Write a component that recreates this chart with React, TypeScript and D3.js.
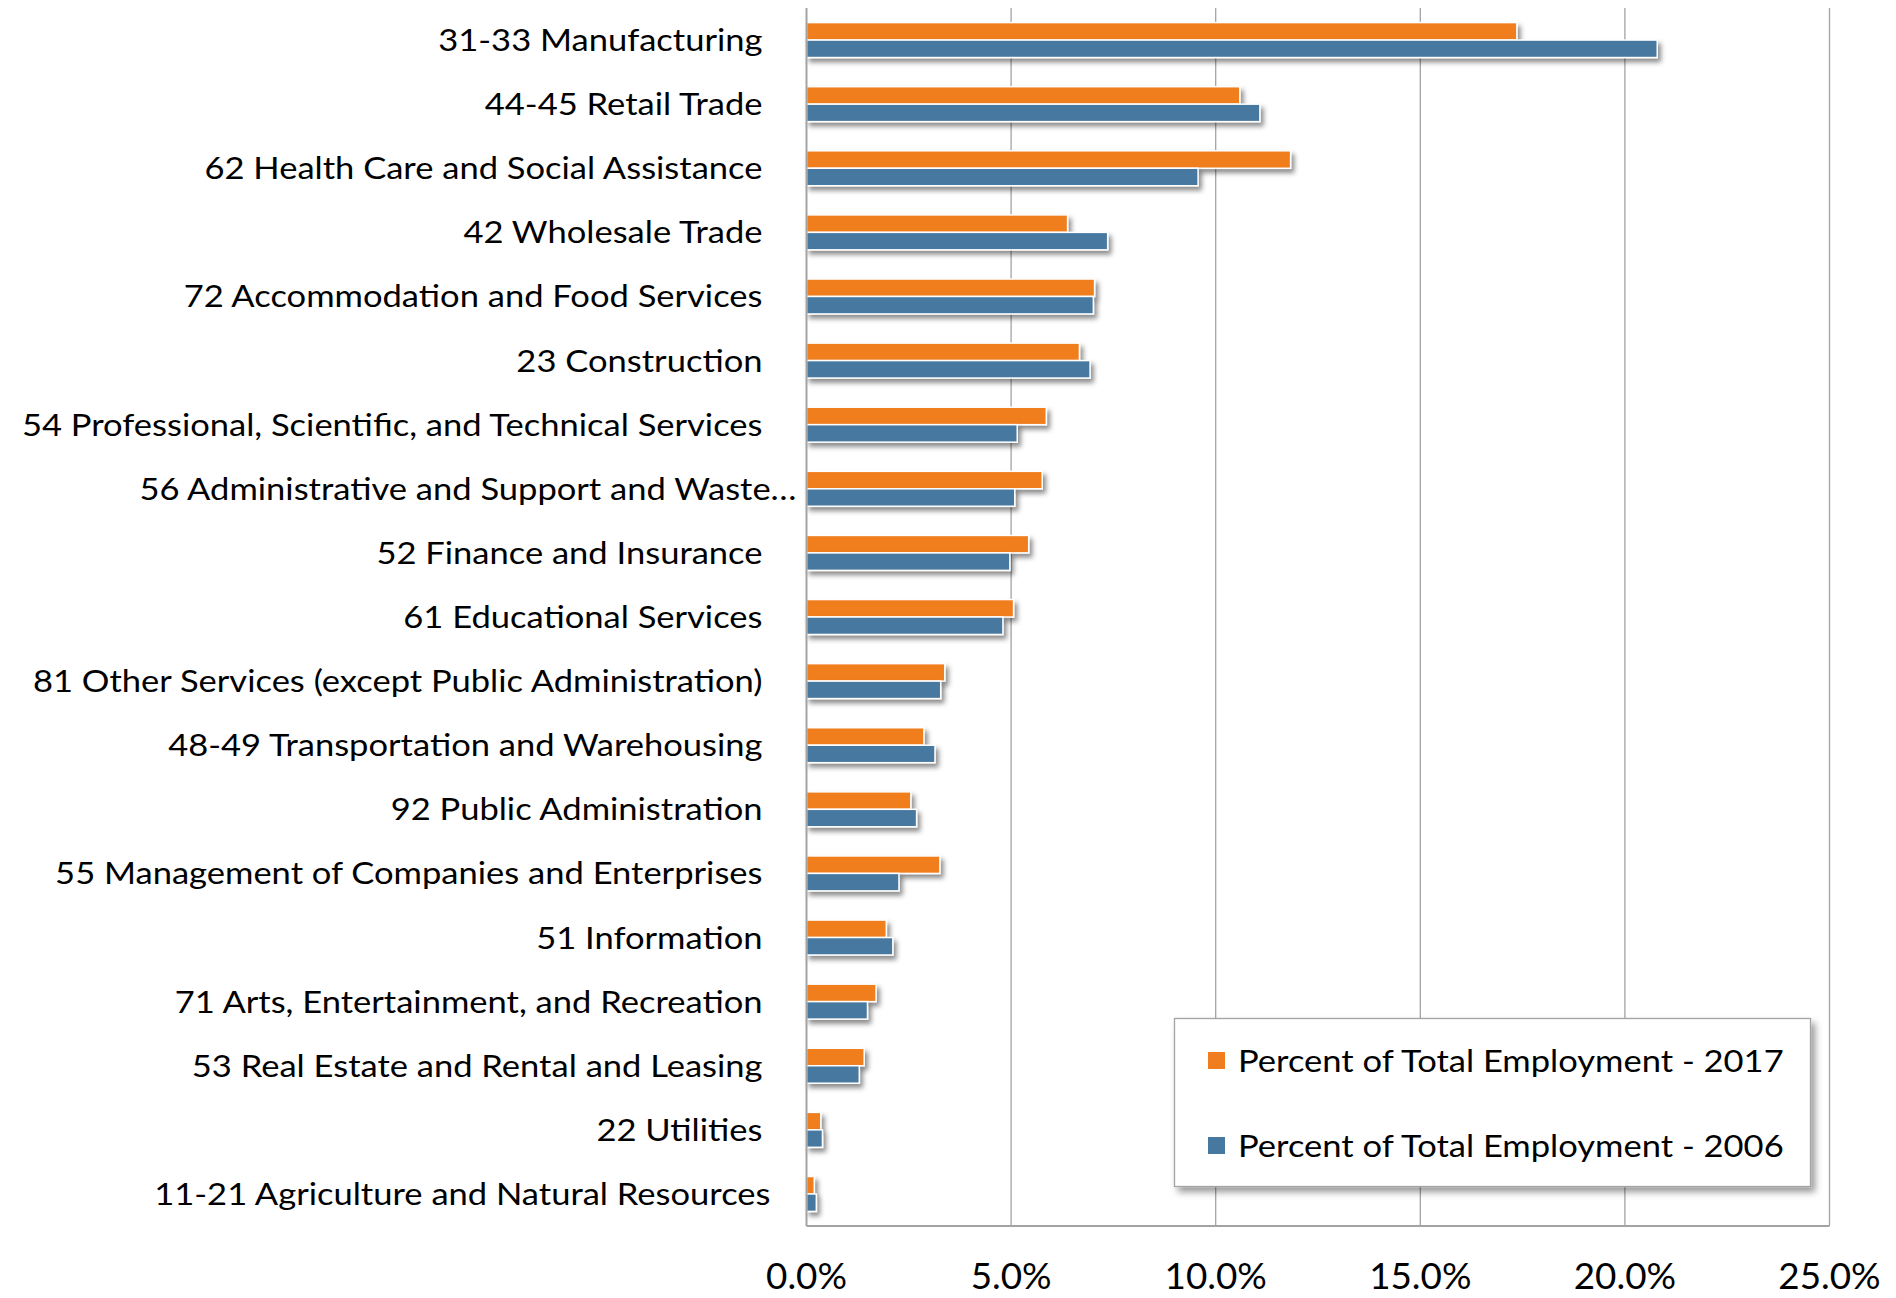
import React, { useLayoutEffect, useRef, useState } from "react";
import * as d3 from "d3";

const categories = [
  "31-33 Manufacturing",
  "44-45 Retail Trade",
  "62 Health Care and Social Assistance",
  "42 Wholesale Trade",
  "72 Accommodation and Food Services",
  "23 Construction",
  "54 Professional, Scientific, and Technical Services",
  "56 Administrative and Support and Waste…",
  "52 Finance and Insurance",
  "61 Educational Services",
  "81 Other Services (except Public Administration)",
  "48-49 Transportation and Warehousing",
  "92 Public Administration",
  "55 Management of Companies and Enterprises",
  "51 Information",
  "71 Arts, Entertainment, and Recreation",
  "53 Real Estate and Rental and Leasing",
  "22 Utilities",
  "11-21 Agriculture and Natural Resources",
];

const pct2017 = [17.36, 10.59, 11.83, 6.38, 7.04, 6.67, 5.86, 5.76, 5.43, 5.06, 3.38, 2.87, 2.55, 3.26, 1.95, 1.7, 1.41, 0.35, 0.19];
const pct2006 = [20.79, 11.08, 9.57, 7.36, 7.01, 6.93, 5.15, 5.09, 4.97, 4.8, 3.28, 3.14, 2.69, 2.26, 2.11, 1.49, 1.29, 0.39, 0.24];

const seriesNames = ["Percent of Total Employment - 2017", "Percent of Total Employment - 2006"];
const seriesKeys = ["2017", "2006"];
const seriesColors = ["#F07E1F", "#47789F"];
const xTicks = [0, 5, 10, 15, 20, 25];

const FONT = "Lato, 'Noto Sans', sans-serif";
const LABEL_SIZE = 31;
const TICK_SIZE = 36;

export default function App() {
  const W = 1896;
  const H = 1298;
  const plotLeft = 806.5;
  const plotRight = 1829.5;
  const gridTop = 8;
  const plotTop = 8;
  const plotBottom = 1226;

  const svgRef = useRef<SVGSVGElement>(null);
  const [kLabel, setKLabel] = useState(1);
  const [kTick, setKTick] = useState(1);

  useLayoutEffect(() => {
    const svg = svgRef.current;
    if (!svg) return;
    const measure = (str: string, size: number) => {
      const t = document.createElementNS("http://www.w3.org/2000/svg", "text");
      t.setAttribute("font-family", FONT);
      t.setAttribute("font-size", String(size));
      t.setAttribute("x", "100");
      t.setAttribute("y", "100");
      t.setAttribute("opacity", "0");
      t.textContent = str;
      svg.appendChild(t);
      const w = t.getComputedTextLength();
      svg.removeChild(t);
      return w;
    };
    const wl = measure(seriesNames[0], LABEL_SIZE);
    const wt = measure("5.0%", TICK_SIZE);
    if (wl > 0) setKLabel(546 / wl);
    if (wt > 0) setKTick(81 / wt);
  }, []);

  const x = d3.scaleLinear().domain([0, 25]).range([plotLeft, plotRight]);
  const y = d3
    .scaleBand<string>()
    .domain(categories)
    .range([plotTop, plotBottom])
    .paddingInner(0.455)
    .paddingOuter(0.2275);
  const ys = d3.scaleBand<string>().domain(seriesKeys).range([0, y.bandwidth()]);

  const seriesValues = [pct2017, pct2006];

  const labelX = (c: string) => {
    if (c.endsWith("…")) return plotLeft - 10;
    if (c.startsWith("11-21")) return plotLeft - 36;
    return plotLeft - 44;
  };

  const legend = { x: 1174.5, y: 1018.5, w: 636, h: 168 };
  const legendRows = [1061, 1146];

  return (
    <svg
      ref={svgRef}
      width={W}
      height={H}
      style={{ position: "absolute", left: 0, top: 0, background: "#fff" }}
      fontFamily={FONT}
    >
      <defs>
        <filter id="shadow" x="-50%" y="-60%" width="300%" height="260%">
          <feDropShadow dx="3" dy="4" stdDeviation="2.6" floodColor="#000" floodOpacity="0.45" />
        </filter>
        <filter id="lshadow" x="-10%" y="-20%" width="120%" height="150%">
          <feDropShadow dx="4" dy="5" stdDeviation="3.5" floodColor="#000" floodOpacity="0.4" />
        </filter>
      </defs>
      <rect x={0} y={0} width={W} height={H} fill="#fff" />

      {/* gridlines */}
      {xTicks.slice(1).map((t) => (
        <line
          key={"g" + t}
          x1={x(t)}
          x2={x(t)}
          y1={gridTop}
          y2={plotBottom}
          stroke="#A3A3A3"
          strokeWidth={1.3}
        />
      ))}

      {/* bars */}
      {categories.map((c, i) => (
        <g key={c}>
          {seriesKeys.map((s, j) => (
            <rect
              key={s}
              x={x(0)}
              y={(y(c) as number) + (ys(s) as number)}
              width={x(seriesValues[j][i]) - x(0)}
              height={ys.bandwidth()}
              fill={seriesColors[j]}
              stroke="#fff"
              strokeWidth={1.5}
              filter="url(#shadow)"
            />
          ))}
        </g>
      ))}

      {/* axes */}
      <line x1={plotLeft} x2={plotLeft} y1={gridTop} y2={plotBottom} stroke="#A3A3A3" strokeWidth={2} />
      <line x1={plotLeft} x2={plotRight} y1={plotBottom} y2={plotBottom} stroke="#A3A3A3" strokeWidth={2} />

      {/* category labels */}
      {categories.map((c) => {
        const cy = (y(c) as number) + y.bandwidth() / 2;
        return (
          <text
            key={"l" + c}
            transform={`translate(${labelX(c)},${cy + 11}) scale(${kLabel},1)`}
            textAnchor="end"
            fontSize={LABEL_SIZE}
            fill="#000"
          >
            {c}
          </text>
        );
      })}

      {/* tick labels */}
      {xTicks.map((t) => (
        <text
          key={"t" + t}
          transform={`translate(${x(t)},${1289}) scale(${kTick},1)`}
          textAnchor="middle"
          fontSize={TICK_SIZE}
          fill="#000"
        >
          {d3.format(".1f")(t) + "%"}
        </text>
      ))}

      {/* legend */}
      <rect
        x={legend.x}
        y={legend.y}
        width={legend.w}
        height={legend.h}
        fill="#fff"
        stroke="#A3A3A3"
        strokeWidth={1.3}
        filter="url(#lshadow)"
      />
      {seriesNames.map((n, j) => (
        <g key={n}>
          <rect x={1208} y={legendRows[j] - 9} width={17} height={17} fill={seriesColors[j]} />
          <text
            transform={`translate(${1238},${legendRows[j] + 11}) scale(${kLabel},1)`}
            fontSize={LABEL_SIZE}
            fill="#000"
          >
            {n}
          </text>
        </g>
      ))}
    </svg>
  );
}
